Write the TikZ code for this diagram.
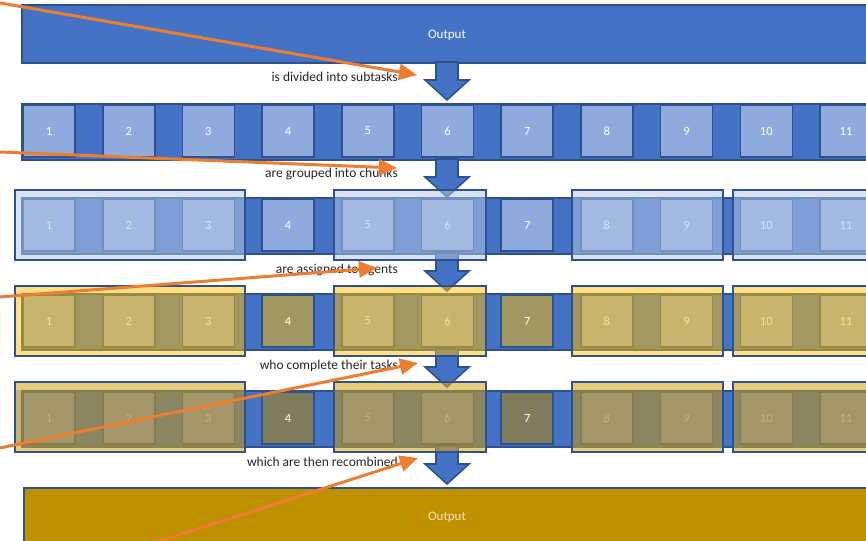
\documentclass[tikz,border=0pt]{standalone}
\usepackage{fontspec}
\setmainfont{Carlito}
\usetikzlibrary{arrows.meta}
\definecolor{bluebar}{HTML}{4472C4}
\definecolor{blueedge}{HTML}{2F528F}
\definecolor{sqblue}{HTML}{8FAADC}
\definecolor{chunkfill}{HTML}{B4C7E7}
\definecolor{goldfill}{HTML}{FFC000}
\definecolor{olivesq}{HTML}{A09860}
\definecolor{olivedark}{HTML}{807D5A}
\definecolor{outgold}{HTML}{BF9000}
\definecolor{orangearr}{HTML}{ED7D31}
\definecolor{creamtext}{HTML}{F5E6B8}
\definecolor{shade}{RGB}{100,100,100}
\begin{document}
\begin{tikzpicture}[x=1pt,y=-1pt,
  txt/.style={font=\fontsize{13}{15}\selectfont},
  barbox/.style={draw=blueedge,line width=1.6pt},
  sqbox/.style={draw=blueedge,line width=1.6pt,minimum width=52pt,minimum height=52pt,inner sep=0pt,text=white,font=\fontsize{12.5}{14}\selectfont},
  blockarrow/.style={draw=blueedge,line width=1.6pt,fill=bluebar,line join=miter},
  grpbox/.style={draw=blueedge,line width=1.8pt},
  steplabel/.style={anchor=east,inner sep=0pt,text=black!85,font=\fontsize{13.5}{15}\selectfont},
  pointer/.style={draw=orangearr,line width=3pt,-{Triangle[length=18pt,width=16pt]}}
]
\useasboundingbox (0,0) rectangle (866,540);
\clip (0,0) rectangle (866,540);

% top output bar
\node[barbox,fill=bluebar,anchor=north west,minimum width=880pt,minimum height=58pt,inner sep=0pt] (outtop) at (21,4) {};
\node[txt,text=white] (outtoplbl) at (447,35) {Output};

% bottom output bar
\node[barbox,fill=outgold,anchor=north west,minimum width=880pt,minimum height=80pt,inner sep=0pt] (outbot) at (23,487) {};
\node[txt,text=creamtext] (outbotlbl) at (447,517) {Output};

% task rows
\foreach \r/\T in {1/103,2/197,3/293,4/390}{
  \node[barbox,fill=bluebar,anchor=north west,minimum width=880pt,minimum height=56pt,inner sep=0pt] (bar\r) at (21,\T) {};
}
\foreach \r/\T/\c in {1/103/sqblue,2/197/sqblue,3/293/olivesq,4/390/olivedark}{
  \foreach \i in {1,...,11}{
    \pgfmathsetmacro{\xc}{49+79.7*(\i-1)}
    \ifnum\i=4 \def\fc{\c}\else\ifnum\i=7 \def\fc{\c}\else\def\fc{sqblue}\fi\fi
    \node[sqbox,fill=\fc] (s\r-\i) at (\xc,\T+28) {\i};
  }
}

% block arrows
\foreach \k/\T in {1/62,2/159,3/253,4/349,5/446}{
  \draw[blockarrow] (436,\T) -- (458,\T) -- (458,\T+18) -- (469,\T+18) -- (447,\T+38) -- (425,\T+18) -- (436,\T+18) -- cycle;
}

% group overlays
\foreach \a/\b in {15/245,334/486,572/723,733/890}{
  \path[fill=chunkfill,fill opacity=0.52] (\a,190) rectangle (\b,260);
  \draw[grpbox] (\a,190) rectangle (\b,260);
  \path[fill=goldfill,fill opacity=0.5] (\a,286) rectangle (\b,356);
  \draw[grpbox] (\a,286) rectangle (\b,356);
  \path[fill=goldfill,fill opacity=0.5] (\a,382) rectangle (\b,452);
  \path[fill=shade,fill opacity=0.15] (\a,382) rectangle (\b,452);
  \path[fill=shade,fill opacity=0.24] (\a,390) rectangle (\b,446);
  \draw[grpbox] (\a,382) rectangle (\b,452);
}

% step labels
\node[steplabel] (l1) at (398,77) {is divided into subtasks};
\node[steplabel] (l2) at (398,174) {are grouped into chunks};
\node[steplabel] (l3) at (398,270) {are assigned to agents};
\node[steplabel] (l4) at (398,366) {who complete their tasks};
\node[steplabel] (l5) at (398,462) {which are then recombined};

% orange pointers
\coordinate (p1s) at (-20,-0.5);  \coordinate (p1e) at (417,75);
\coordinate (p2s) at (-20,151.2); \coordinate (p2e) at (397,168);
\coordinate (p3s) at (-20,298.5); \coordinate (p3e) at (377,268);
\coordinate (p4s) at (-20,452);   \coordinate (p4e) at (418,363);
\coordinate (p5s) at (101,560);   \coordinate (p5e) at (418,458);
\foreach \k in {1,...,5}{ \draw[pointer] (p\k s) -- (p\k e); }
\end{tikzpicture}
\end{document}
